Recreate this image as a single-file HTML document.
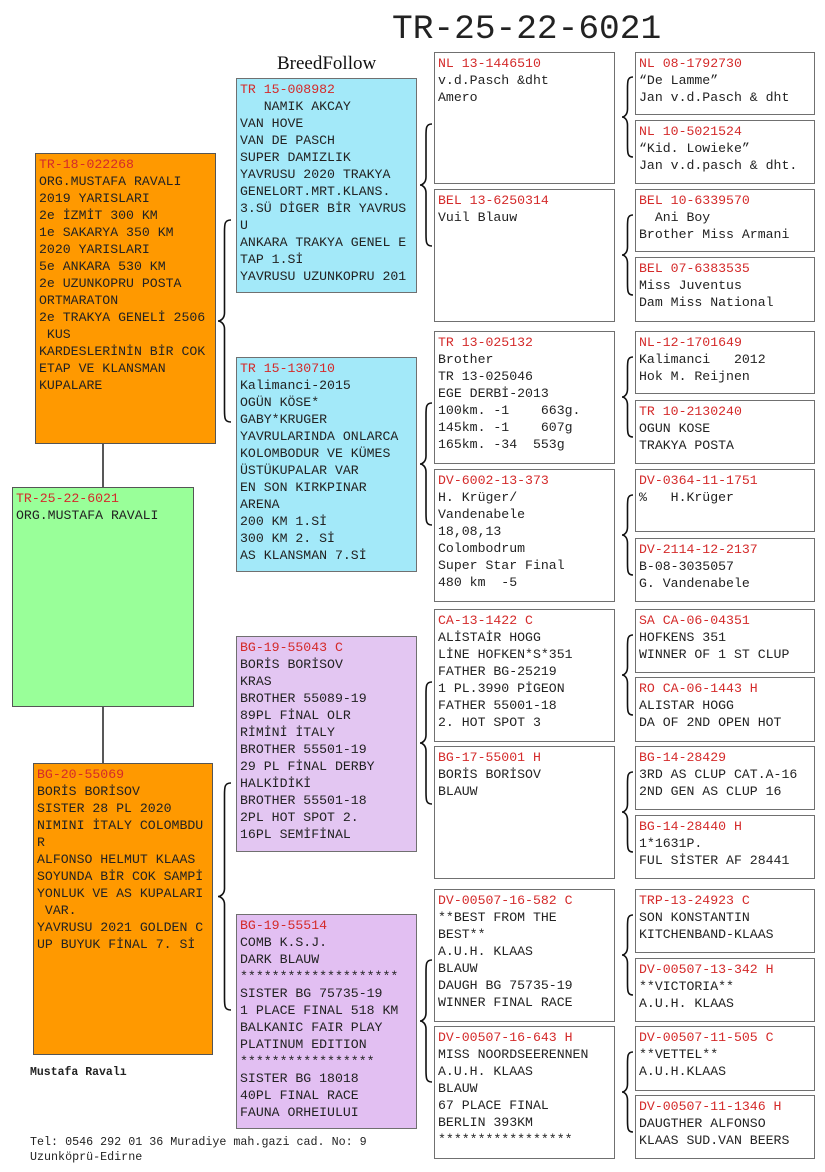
<!DOCTYPE html>
<html><head><meta charset="utf-8"><style>
body{margin:0;width:825px;height:1172px;background:#fff;position:relative;overflow:hidden;font-family:"Liberation Mono",monospace;}
.b{position:absolute;box-sizing:border-box;border:1.5px solid #707070;padding:2px 3px;font-size:13.2px;line-height:17px;color:#222;white-space:pre;overflow:hidden;}
.r{color:#d42a2a;}
.o{background:#ff9900;border-color:#555;}
.g{background:#99ff99;border-color:#555;}
.c{background:#a3e9f9;}
.p{background:#e3c6f2;}
.p2{background:#e2bff2;}
.w{background:#fff;}
.t{position:absolute;}
</style></head><body>
<div class="t" style="left:392px;top:10px;font-size:34.5px;line-height:40px;color:#222">TR-25-22-6021</div>
<div class="t" style="left:277px;top:53px;font-family:'Liberation Serif',serif;font-size:19px;color:#111">BreedFollow</div>

<svg style="position:absolute;left:0;top:0" width="825" height="1172">
<g stroke="#111" stroke-width="1.4" fill="none">
<line x1="103" y1="443" x2="103" y2="487"/>
<line x1="103" y1="706" x2="103" y2="763"/>
</g>
<g stroke="#111" stroke-width="1.6" fill="none" id="br"></g>
</svg>

<div class="b o" style="left:35px;top:153px;width:181px;height:291px"><span class="r">TR-18-022268</span>
ORG.MUSTAFA RAVALI
2019 YARISLARI
2e İZMİT 300 KM
1e SAKARYA 350 KM
2020 YARISLARI
5e ANKARA 530 KM
2e UZUNKOPRU POSTA
ORTMARATON
2e TRAKYA GENELİ 2506
 KUS
KARDESLERİNİN BİR COK
ETAP VE KLANSMAN
KUPALARE</div>
<div class="b g" style="left:12px;top:487px;width:182px;height:220px"><span class="r">TR-25-22-6021</span>
ORG.MUSTAFA RAVALI</div>
<div class="b o" style="left:33px;top:763px;width:180px;height:292px"><span class="r">BG-20-55069</span>
BORİS BORİSOV
SISTER 28 PL 2020
NIMINI İTALY COLOMBDU
R
ALFONSO HELMUT KLAAS
SOYUNDA BİR COK SAMPİ
YONLUK VE AS KUPALARI
 VAR.
YAVRUSU 2021 GOLDEN C
UP BUYUK FİNAL 7. Sİ</div>
<div class="t" style="left:30px;top:1066px;font-size:11.5px;font-weight:bold;color:#222">Mustafa Ravalı</div>
<div class="t" style="left:30px;top:1135px;font-size:11.7px;line-height:15px;color:#222;white-space:pre">Tel: 0546 292 01 36 Muradiye mah.gazi cad. No: 9
Uzunköprü-Edirne</div>

<div class="b c" style="left:236px;top:78px;width:181px;height:215px"><span class="r">TR 15-008982</span>
   NAMIK AKCAY
VAN HOVE
VAN DE PASCH
SUPER DAMIZLIK
YAVRUSU 2020 TRAKYA
GENELORT.MRT.KLANS.
3.SÜ DİGER BİR YAVRUS
U
ANKARA TRAKYA GENEL E
TAP 1.Sİ
YAVRUSU UZUNKOPRU 201</div>
<div class="b c" style="left:236px;top:357px;width:181px;height:215px"><span class="r">TR 15-130710</span>
Kalimanci-2015
OGÜN KÖSE*
GABY*KRUGER
YAVRULARINDA ONLARCA
KOLOMBODUR VE KÜMES
ÜSTÜKUPALAR VAR
EN SON KIRKPINAR
ARENA
200 KM 1.Sİ
300 KM 2. Sİ
AS KLANSMAN 7.Sİ</div>
<div class="b p" style="left:236px;top:636px;width:181px;height:216px"><span class="r">BG-19-55043 C</span>
BORİS BORİSOV
KRAS
BROTHER 55089-19
89PL FİNAL OLR
RİMİNİ İTALY
BROTHER 55501-19
29 PL FİNAL DERBY
HALKİDİKİ
BROTHER 55501-18
2PL HOT SPOT 2.
16PL SEMİFİNAL</div>
<div class="b p2" style="left:236px;top:914px;width:181px;height:215px"><span class="r">BG-19-55514</span>
COMB K.S.J.
DARK BLAUW
********************
SISTER BG 75735-19
1 PLACE FINAL 518 KM
BALKANIC FAIR PLAY
PLATINUM EDITION
*****************
SISTER BG 18018
40PL FINAL RACE
FAUNA ORHEIULUI</div>

<div class="b w" style="left:434px;top:52px;width:181px;height:132px"><span class="r">NL 13-1446510</span>
v.d.Pasch &amp;dht
Amero</div>
<div class="b w" style="left:434px;top:189px;width:181px;height:133px"><span class="r">BEL 13-6250314</span>
Vuil Blauw</div>
<div class="b w" style="left:434px;top:331px;width:181px;height:133px"><span class="r">TR 13-025132</span>
Brother
TR 13-025046
EGE DERBİ-2013
100km. -1    663g.
145km. -1    607g
165km. -34  553g</div>
<div class="b w" style="left:434px;top:469px;width:181px;height:133px"><span class="r">DV-6002-13-373</span>
H. Krüger/
Vandenabele
18,08,13
Colombodrum
Super Star Final
480 km  -5</div>
<div class="b w" style="left:434px;top:609px;width:181px;height:133px"><span class="r">CA-13-1422 C</span>
ALİSTAİR HOGG
LİNE HOFKEN*S*351
FATHER BG-25219
1 PL.3990 PİGEON
FATHER 55001-18
2. HOT SPOT 3</div>
<div class="b w" style="left:434px;top:746px;width:181px;height:133px"><span class="r">BG-17-55001 H</span>
BORİS BORİSOV
BLAUW</div>
<div class="b w" style="left:434px;top:889px;width:181px;height:133px"><span class="r">DV-00507-16-582 C</span>
**BEST FROM THE
BEST**
A.U.H. KLAAS
BLAUW
DAUGH BG 75735-19
WINNER FINAL RACE</div>
<div class="b w" style="left:434px;top:1026px;width:181px;height:133px"><span class="r">DV-00507-16-643 H</span>
MISS NOORDSEERENNEN
A.U.H. KLAAS
BLAUW
67 PLACE FINAL
BERLIN 393KM
*****************</div>

<div class="b w" style="left:635px;top:52px;width:180px;height:63px"><span class="r">NL 08-1792730</span>
“De Lamme”
Jan v.d.Pasch &amp; dht</div>
<div class="b w" style="left:635px;top:120px;width:180px;height:64px"><span class="r">NL 10-5021524</span>
“Kid. Lowieke”
Jan v.d.pasch &amp; dht.</div>
<div class="b w" style="left:635px;top:189px;width:180px;height:63px"><span class="r">BEL 10-6339570</span>
  Ani Boy
Brother Miss Armani</div>
<div class="b w" style="left:635px;top:257px;width:180px;height:65px"><span class="r">BEL 07-6383535</span>
Miss Juventus
Dam Miss National</div>
<div class="b w" style="left:635px;top:331px;width:180px;height:63px"><span class="r">NL-12-1701649</span>
Kalimanci   2012
Hok M. Reijnen</div>
<div class="b w" style="left:635px;top:400px;width:180px;height:64px"><span class="r">TR 10-2130240</span>
OGUN KOSE
TRAKYA POSTA</div>
<div class="b w" style="left:635px;top:469px;width:180px;height:63px"><span class="r">DV-0364-11-1751</span>
%   H.Krüger</div>
<div class="b w" style="left:635px;top:538px;width:180px;height:64px"><span class="r">DV-2114-12-2137</span>
B-08-3035057
G. Vandenabele</div>
<div class="b w" style="left:635px;top:609px;width:180px;height:64px"><span class="r">SA CA-06-04351</span>
HOFKENS 351
WINNER OF 1 ST CLUP</div>
<div class="b w" style="left:635px;top:677px;width:180px;height:65px"><span class="r">RO CA-06-1443 H</span>
ALISTAR HOGG
DA OF 2ND OPEN HOT</div>
<div class="b w" style="left:635px;top:746px;width:180px;height:64px"><span class="r">BG-14-28429</span>
3RD AS CLUP CAT.A-16
2ND GEN AS CLUP 16</div>
<div class="b w" style="left:635px;top:815px;width:180px;height:64px"><span class="r">BG-14-28440 H</span>
1*1631P.
FUL SİSTER AF 28441</div>
<div class="b w" style="left:635px;top:889px;width:180px;height:64px"><span class="r">TRP-13-24923 C</span>
SON KONSTANTIN
KITCHENBAND-KLAAS</div>
<div class="b w" style="left:635px;top:958px;width:180px;height:64px"><span class="r">DV-00507-13-342 H</span>
**VICTORIA**
A.U.H. KLAAS</div>
<div class="b w" style="left:635px;top:1026px;width:180px;height:65px"><span class="r">DV-00507-11-505 C</span>
**VETTEL**
A.U.H.KLAAS</div>
<div class="b w" style="left:635px;top:1095px;width:180px;height:64px"><span class="r">DV-00507-11-1346 H</span>
DAUGTHER ALFONSO
KLAAS SUD.VAN BEERS</div>

<script>
var g=document.getElementById('br'),s='';
function br(x0,xr,y1,y2){var m=(y1+y2)/2,xm=(x0+xr)/2;
s+='<path d="M'+xr+','+y1+' C'+xm+','+y1+' '+xm+','+(y1+4)+' '+xm+','+(y1+12)+' L'+xm+','+(m-8)+' C'+xm+','+(m-2)+' '+(x0+2)+','+m+' '+x0+','+m+' C'+(x0+2)+','+m+' '+xm+','+(m+2)+' '+xm+','+(m+8)+' L'+xm+','+(y2-12)+' C'+xm+','+(y2-4)+' '+xm+','+y2+' '+xr+','+y2+'"/>';}
br(218,231,220,422);br(218,231,783,1010);
[185,464,743,1021].forEach(function(c){br(420,432,c-61,c+61);});
[117,255,397,535,675,812,955,1092].forEach(function(c){br(622,633,c-40,c+40);});
g.innerHTML=s;
</script>
</body></html>
